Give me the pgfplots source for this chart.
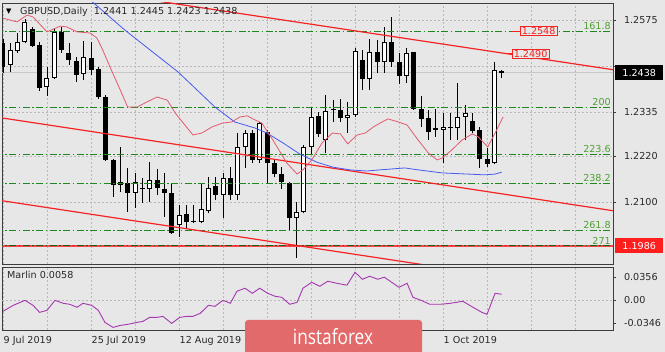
\documentclass[border=0pt]{standalone}
\usepackage{fontspec}
\usepackage{graphicx}
\usepackage{pgfplots}
\pgfplotsset{compat=1.18}
\usepackage{pgfplotstable}
\setmainfont{DejaVu Sans}
\newfontfamily\logofont{Open Sans}
\newcommand\tf{\fontsize{9.6}{11}\selectfont}
\definecolor{bg}{RGB}{231,231,231}
\definecolor{gridc}{RGB}{185,185,185}
\definecolor{fibg}{RGB}{30,135,30}
\definecolor{fibt}{RGB}{80,160,50}
\definecolor{trend}{RGB}{245,35,35}
\definecolor{maslow}{RGB}{70,90,240}
\definecolor{mafast}{RGB}{228,90,110}
\definecolor{marlinc}{RGB}{165,55,175}
\definecolor{logoc}{RGB}{226,106,106}
\definecolor{axisc}{RGB}{60,60,60}
\definecolor{txt}{RGB}{40,40,40}
\definecolor{bidc}{RGB}{200,200,200}

\pgfplotstableread{
i o h l c
0 1.2515 1.2525 1.2437 1.2452
1 1.2458 1.2515 1.2439 1.2497
2 1.2494 1.2541 1.2489 1.2518
3 1.2518 1.2578 1.2515 1.2570
4 1.2552 1.2557 1.2505 1.2507
5 1.2510 1.2518 1.2390 1.2398
6 1.2400 1.2452 1.2377 1.2424
7 1.2424 1.2554 1.2422 1.2544
8 1.2544 1.2557 1.2489 1.2497
9 1.2489 1.2515 1.2458 1.2471
10 1.2468 1.2478 1.2413 1.2432
11 1.2434 1.2520 1.2418 1.2478
12 1.2476 1.2518 1.2432 1.2445
13 1.2447 1.2452 1.2369 1.2374
14 1.2374 1.2379 1.2207 1.2210
15 1.2210 1.2212 1.2113 1.2145
16 1.2145 1.2244 1.2126 1.2152
17 1.2150 1.2189 1.2074 1.2124
18 1.2124 1.2176 1.2085 1.2152
19 1.2133 1.2163 1.2098 1.2135
20 1.2134 1.2205 1.2100 1.2158
21 1.2158 1.2186 1.2118 1.2137
22 1.2134 1.2176 1.2061 1.2124
23 1.2124 1.2150 1.2017 1.2019
24 1.2040 1.2092 1.2009 1.2066
25 1.2069 1.2092 1.2032 1.2048
26 1.2051 1.2092 1.2045 1.2047
27 1.2048 1.2150 1.2045 1.2082
28 1.2077 1.2165 1.2071 1.2137
29 1.2142 1.2165 1.2105 1.2118
30 1.2118 1.2176 1.2058 1.2163
31 1.2163 1.2192 1.2105 1.2118
32 1.2118 1.2280 1.2105 1.2244
33 1.2244 1.2288 1.2189 1.2280
34 1.2280 1.2288 1.2202 1.2210
35 1.2210 1.2309 1.2202 1.2306
36 1.2283 1.2288 1.2150 1.2202
37 1.2202 1.2210 1.2165 1.2173
38 1.2173 1.2192 1.2134 1.2152
39 1.2150 1.2152 1.2027 1.2058
40 1.2058 1.2100 1.1954 1.2074
41 1.2074 1.2249 1.2071 1.2244
42 1.2244 1.2348 1.2223 1.2322
43 1.2324 1.2335 1.2270 1.2278
44 1.2262 1.2379 1.2228 1.2338
45 1.2342 1.2366 1.2309 1.2340
46 1.2340 1.2369 1.2309 1.2319
47 1.2319 1.2361 1.2280 1.2327
48 1.2327 1.2502 1.2322 1.2494
49 1.2471 1.2497 1.2392 1.2421
50 1.2421 1.2525 1.2392 1.2492
51 1.2492 1.2523 1.2437 1.2465
52 1.2465 1.2557 1.2437 1.2518
53 1.2518 1.2583 1.2452 1.2465
54 1.2465 1.2489 1.2408 1.2429
55 1.2429 1.2502 1.2411 1.2489
56 1.2492 1.2492 1.2340 1.2343
57 1.2343 1.2377 1.2296 1.2317
58 1.2319 1.2340 1.2262 1.2283
59 1.2293 1.2342 1.2270 1.2288
60 1.2288 1.2332 1.2202 1.2296
61 1.2293 1.2332 1.2262 1.2294
62 1.2293 1.2411 1.2262 1.2322
63 1.2322 1.2353 1.2262 1.2332
64 1.2312 1.2332 1.2280 1.2285
65 1.2288 1.2296 1.2189 1.2212
66 1.2212 1.2241 1.2192 1.2199
67 1.2202 1.2465 1.2199 1.2444
68 1.2441 1.2445 1.2423 1.2438
}\ohlc

\pgfplotstableread{
i v
0 1.2580
1.9 1.2570
3.3 1.2588
4.1 1.2583
6 1.2544
7.8 1.2559
8.7 1.2557
10.1 1.2544
11.9 1.2541
12.8 1.2528
13.6 1.2497
14.6 1.2452
16 1.2392
17 1.2348
18.3 1.2348
19.6 1.2361
21 1.2374
22.4 1.2366
23.5 1.2332
24.8 1.2301
25.9 1.2275
27.1 1.2280
28.5 1.2296
29.9 1.2306
31.2 1.2309
32.3 1.2322
33.3 1.2325
34.4 1.2314
35.3 1.2306
36.8 1.2262
38.7 1.2202
40.1 1.2173
40.9 1.2184
42.1 1.2210
43.5 1.2254
44.9 1.2280
46 1.2278
47 1.2252
48.3 1.2275
49.4 1.2280
50.5 1.2296
51.4 1.2306
52.5 1.2317
53.9 1.2309
55.1 1.2301
56.6 1.2262
58 1.2228
59.2 1.2210
59.9 1.2215
61.2 1.2236
62.6 1.2262
64 1.2278
64.8 1.2270
66.1 1.2244
67.1 1.2280
68.2 1.2322
}\fastma

\pgfplotstableread{
i v
9.5 1.2670
11.9 1.2627
16.6 1.2549
23.9 1.2439
28.9 1.2348
31.6 1.2309
34.4 1.2293
36 1.2280
38.2 1.2254
40.5 1.2225
42.8 1.2204
45 1.2191
47.3 1.2184
49.6 1.2181
51.4 1.2184
54.8 1.2189
56.6 1.2184
59.9 1.2176
63.4 1.2173
65.7 1.2171
67.1 1.2173
68 1.2178
}\slowma

\pgfplotstableread{
i v
0 -0.0168
1.4 -0.0077
3 0.0000
4.1 -0.0077
5 -0.0184
6 -0.0153
7.1 0.0000
8.2 -0.0046
9.1 -0.0061
10.1 -0.0107
10.9 -0.0046
12.1 -0.0077
13 -0.0153
13.9 -0.0337
15 -0.0413
16 -0.0383
17 -0.0367
18.3 -0.0337
19.1 -0.0321
20 -0.0260
21 -0.0260
21.8 -0.0245
23 -0.0352
24.1 -0.0260
25.1 -0.0245
25.9 -0.0245
26.9 -0.0199
28 -0.0077
28.9 -0.0092
30 0.0000
31 -0.0046
31.9 0.0138
33 0.0184
34 0.0107
35 0.0184
36.1 0.0107
37.1 0.0061
38 0.0046
39.1 -0.0061
40.1 -0.0031
40.9 0.0184
42.1 0.0275
43.2 0.0214
44.3 0.0291
45.5 0.0260
46.9 0.0230
48 0.0428
49 0.0321
50 0.0367
51.1 0.0321
52 0.0352
53 0.0275
54 0.0199
55.1 0.0260
55.9 0.0046
57 0.0000
58.2 -0.0061
59.6 -0.0061
61 -0.0046
62.7 -0.0015
64.1 -0.0107
65.3 -0.0184
66 -0.0214
67.1 0.0107
68 0.0092
}\marlin

\begin{document}
\begin{tikzpicture}
\useasboundingbox (0,0) rectangle (665pt,-352pt);
\fill[bg] (0,0) rectangle (665pt,-352pt);

\begin{axis}[
  at={(2pt,-3pt)}, anchor=north west,
  scale only axis, width=611pt, height=261pt,
  xmin=-0.136, xmax=83.18, ymin=1.19384, ymax=1.26194,
  scaled x ticks=false, scaled y ticks=false,
  axis line style={axisc, line width=0.7pt},
  xtick={0,6,...,78}, xticklabels={}, xtick style={draw=none},
  ytick={1.2100,1.2220,1.2335,1.2455,1.2575},
  yticklabels={1.2100,1.2220,1.2335,,1.2575},
  ytick pos=right, yticklabel pos=right,
  tick align=outside, major tick length=3pt,
  ytick style={axisc, line width=0.6pt},
  yticklabel style={font=\tf, text=txt, anchor=west, xshift=4.5pt},
  grid=major,
  major grid style={gridc, dash pattern=on 2pt off 2pt, line width=0.5pt},
]
% bid line
\addplot[bidc, line width=0.6pt] coordinates {(-1,1.2438) (85,1.2438)};
% candles: wicks, bodies
\addplot[draw=none, mark=none,
  error bars/.cd, y dir=plus, y explicit, error mark=none,
  error bar style={draw=black, line width=0.9pt}]
  table[x=i, y=l, y error expr=\thisrow{h}-\thisrow{l}] {\ohlc};
\addplot[draw=none, mark=none,
  error bars/.cd, y dir=plus, y explicit, error mark=none,
  error bar style={draw=black, line width=5pt}]
  table[x=i, y expr={min(\thisrow{o},\thisrow{c})}, y error expr={max(abs(\thisrow{c}-\thisrow{o}),0.0003)}] {\ohlc};
\addplot[draw=none, mark=none,
  error bars/.cd, y dir=plus, y explicit, error mark=none,
  error bar style={draw=white, line width=3pt}]
  table[x=i, y expr={\thisrow{o}+0.00027}, y error expr={max(\thisrow{c}-\thisrow{o}-0.00054,0)}] {\ohlc};
% fibonacci levels
\addplot[fibg, line width=0.8pt, dash pattern=on 7pt off 2.5pt on 1.5pt off 2.5pt] coordinates {(-1,1.2546) (85,1.2546)};
\addplot[fibg, line width=0.8pt, dash pattern=on 7pt off 2.5pt on 1.5pt off 2.5pt] coordinates {(-1,1.2347) (85,1.2347)};
\addplot[fibg, line width=0.8pt, dash pattern=on 7pt off 2.5pt on 1.5pt off 2.5pt] coordinates {(-1,1.2225) (85,1.2225)};
\addplot[fibg, line width=0.8pt, dash pattern=on 7pt off 2.5pt on 1.5pt off 2.5pt] coordinates {(-1,1.2149) (85,1.2149)};
\addplot[fibg, line width=0.8pt, dash pattern=on 7pt off 2.5pt on 1.5pt off 2.5pt] coordinates {(-1,1.2027) (85,1.2027)};
\addplot[trend!85!white, line width=1.6pt] coordinates {(-1,1.1986) (85,1.1986)};
\addplot[fibg!70!black, line width=0.8pt, dash pattern=on 7pt off 2.5pt on 1.5pt off 2.5pt] coordinates {(-1,1.1986) (85,1.1986)};
% trend channel
\addplot[trend, line width=1.2pt] coordinates {(-1,1.2688) (84,1.2443)};
\addplot[trend, line width=1.2pt] coordinates {(-1,1.2322) (84,1.2075)};
\addplot[trend, line width=1.2pt] coordinates {(-1,1.2106) (84,1.1859)};
% moving averages
\addplot[maslow, line width=0.8pt] table[x=i, y=v] {\slowma};
\addplot[mafast, line width=0.8pt] table[x=i, y=v] {\fastma};
% labels
\node[anchor=south east, inner sep=0pt, text=fibt, font=\tf] at (axis cs:82.9,1.2546) [yshift=1.5pt] {161.8};
\node[anchor=south east, inner sep=0pt, text=fibt, font=\tf] at (axis cs:82.9,1.2347) [yshift=1.5pt] {200};
\node[anchor=south east, inner sep=0pt, text=fibt, font=\tf] at (axis cs:82.9,1.2225) [yshift=1.5pt] {223.6};
\node[anchor=south east, inner sep=0pt, text=fibt, font=\tf] at (axis cs:82.9,1.2149) [yshift=1.5pt] {238.2};
\node[anchor=south east, inner sep=0pt, text=fibt, font=\tf] at (axis cs:82.9,1.2027) [yshift=1.5pt] {261.8};
\node[anchor=south east, inner sep=0pt, text=fibt, font=\tf] at (axis cs:82.9,1.1986) [yshift=1.5pt] {271};
\draw[trend, line width=0.8pt] (axis cs:69.4,1.2546) -- (axis cs:70.5,1.2546);
\node[anchor=west, draw=trend, fill=bg, text=trend, font=\tf, line width=0.7pt, inner xsep=1.5pt, inner ysep=1pt] at (axis cs:70.5,1.2546) {1.2548};
\draw[trend, line width=0.8pt] (axis cs:68.2,1.2488) -- (axis cs:69.4,1.2488);
\node[anchor=west, draw=trend, fill=bg, text=trend, font=\tf, line width=0.7pt, inner xsep=1.5pt, inner ysep=1pt] at (axis cs:69.4,1.2487) {1.2490};
\node[anchor=west, inner sep=0pt, font=\fontsize{7}{8}\selectfont, text=black] at (rel axis cs:0,1) [xshift=4pt, yshift=-8.5pt] {▼};
\node[anchor=west, inner sep=0pt, font=\tf, text=txt] at (rel axis cs:0,1) [xshift=18pt, yshift=-8.5pt] {GBPUSD,Daily\ \ 1.2441 1.2445 1.2423 1.2438};
\coordinate (bidpt) at (axis cs:83.18,1.2438);
\coordinate (redpt) at (axis cs:83.18,1.1986);
\end{axis}

\begin{axis}[
  at={(2pt,-267pt)}, anchor=north west,
  scale only axis, width=611pt, height=63pt,
  xmin=-0.136, xmax=83.18, ymin=-0.0453, ymax=0.0508,
  scaled x ticks=false, scaled y ticks=false,
  axis line style={axisc, line width=0.7pt},
  xtick={0,6,...,78},
  xticklabels={9 Jul 2019,,25 Jul 2019,,12 Aug 2019,,,,,,1 Oct 2019,,,},
  xtick style={draw=none},
  xticklabel style={font=\tf, text=txt, anchor=north west, inner sep=0pt, xshift=0.5pt, yshift=-3pt},
  ytick={-0.0346,0.0356}, yticklabels={-0.0346,0.0356},
  extra y ticks={0}, extra y tick labels={0.00},
  extra y tick style={ymajorgrids=true},
  ytick pos=right, yticklabel pos=right,
  tick align=outside, major tick length=3pt,
  ytick style={axisc, line width=0.6pt},
  yticklabel style={font=\tf, text=txt, anchor=west, xshift=4.5pt},
  xmajorgrids,
  major grid style={gridc, dash pattern=on 2pt off 2pt, line width=0.5pt},
]
\addplot[marlinc, line width=0.9pt] table[x=i, y=v] {\marlin};
\node[anchor=north west, inner sep=0pt, font=\tf, text=txt] at (rel axis cs:0,1) [xshift=5pt, yshift=-4pt] {Marlin 0.0058};
\end{axis}

\node[anchor=west, fill=black, text=white, font=\tf, minimum width=48pt, minimum height=15pt, inner sep=0pt] at (bidpt) [xshift=2pt] {1.2438};
\node[anchor=west, fill={rgb,255:red,255;green,30;blue,30}, text=white, font=\tf, minimum width=48pt, minimum height=15pt, inner sep=0pt] at (redpt) [xshift=2pt] {1.1986};

\fill[logoc, rounded corners=3pt] (245pt,-320pt) rectangle (422pt,-358pt);
\node[text=white, inner sep=0pt] at (333pt,-337pt) {\scalebox{0.82}[1]{\logofont\fontsize{21}{21}\selectfont instaforex}};
\end{tikzpicture}
\end{document}
